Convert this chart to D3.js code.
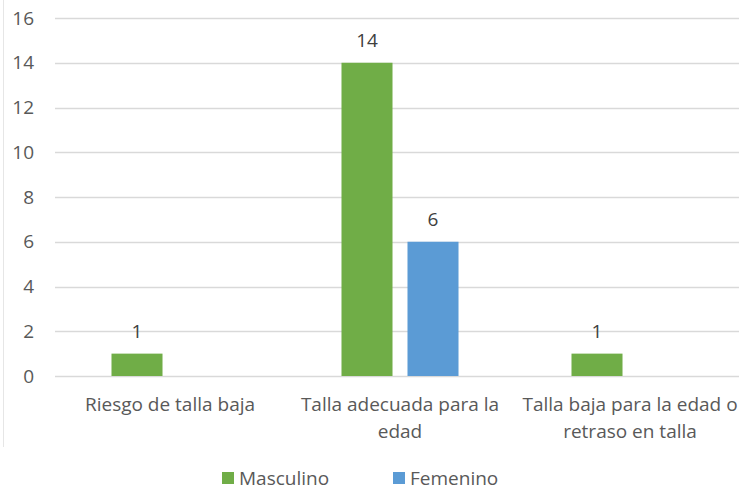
<!DOCTYPE html>
<html>
<head>
<meta charset="utf-8">
<script src="https://cdn.jsdelivr.net/npm/d3@7"></script>
<style>
  body { margin:0; background:#fff; }
  text { font-family: "Open Sans", "Liberation Sans", sans-serif; }
</style>
</head>
<body>
<div id="chart"></div>
<script>
// data
var categories = ["Riesgo de talla baja", "Talla adecuada para la edad", "Talla baja para la edad o retraso en talla"];
var catLines = [["Riesgo de talla baja"], ["Talla adecuada para la", "edad"], ["Talla baja para la edad o", "retraso en talla"]];
var seriesNames = ["Masculino", "Femenino"];
var masculino = [1, 14, 1];
var femenino = [0, 6, 0];
var yTicks = [0, 2, 4, 6, 8, 10, 12, 14, 16];
var colors = {"Masculino": "#70ad47", "Femenino": "#5b9bd5"};

var wdim = 739, hdim = 491;
var plot = {left: 55, right: 745, top: 18, bottom: 376};
var fs = "19px";

var svg = d3.select("#chart").append("svg")
  .attr("width", wdim)
  .attr("height", hdim);

// faint chart frame on the left
svg.append("line")
  .attr("x1", 3.5).attr("x2", 3.5)
  .attr("y1", 0).attr("y2", 447)
  .attr("stroke", "#e6e6e6");

var x = d3.scaleBand().domain(categories).range([plot.left, plot.right]);
var xs = d3.scaleBand().domain(seriesNames).range([0, x.bandwidth()])
  .paddingInner(0.227).paddingOuter(0.856);
var y = d3.scaleLinear().domain([0, 16]).range([plot.bottom, plot.top]);

// gridlines
svg.append("g").selectAll("line")
  .data(yTicks).enter().append("line")
  .attr("x1", plot.left).attr("x2", plot.right)
  .attr("y1", function(d){ return Math.round(y(d)) + 0.5; })
  .attr("y2", function(d){ return Math.round(y(d)) + 0.5; })
  .attr("stroke", "#d9d9d9")
  .attr("stroke-width", 1.5);

// y tick labels
svg.append("g").selectAll("text")
  .data(yTicks).enter().append("text")
  .attr("x", 34)
  .attr("y", function(d){ return y(d); })
  .attr("dy", "0.35em")
  .attr("text-anchor", "end")
  .attr("fill", "#595959")
  .style("font-size", fs)
  .text(function(d){ return d; });

// bars
var rows = categories.map(function(c, i){
  return {cat: c, vals: [{s: "Masculino", v: masculino[i]}, {s: "Femenino", v: femenino[i]}]};
});

var groups = svg.selectAll(".grp")
  .data(rows).enter().append("g")
  .attr("class", "grp")
  .attr("transform", function(d){ return "translate(" + x(d.cat) + ",0)"; });

var bars = groups.selectAll(".bar")
  .data(function(d){ return d.vals.filter(function(e){ return e.v > 0; }); })
  .enter();

bars.append("rect")
  .attr("class", "bar")
  .attr("x", function(d){ return xs(d.s); })
  .attr("width", xs.bandwidth())
  .attr("y", function(d){ return y(d.v); })
  .attr("height", function(d){ return y(0) - y(d.v); })
  .attr("fill", function(d){ return colors[d.s]; });

bars.append("text")
  .attr("x", function(d){ return xs(d.s) + xs.bandwidth()/2; })
  .attr("y", function(d){ return y(d.v) - 22; })
  .attr("dy", "0.35em")
  .attr("text-anchor", "middle")
  .attr("fill", "#404040")
  .style("font-size", fs)
  .text(function(d){ return d.v; });

// category labels
var catText = svg.append("g").selectAll("text")
  .data(categories).enter().append("text")
  .attr("x", function(d){ return x(d) + x.bandwidth()/2; })
  .attr("y", 404)
  .attr("text-anchor", "middle")
  .attr("fill", "#595959")
  .style("font-size", fs);

catText.each(function(d, i){
  d3.select(this).selectAll("tspan")
    .data(catLines[i]).enter().append("tspan")
    .attr("x", x(d) + x.bandwidth()/2)
    .attr("dy", function(e, j){ return j === 0 ? "0.35em" : "27px"; })
    .text(function(e){ return e; });
});

// legend
var legendX = [222, 393];
var legend = svg.append("g").selectAll("g")
  .data(seriesNames).enter().append("g")
  .attr("transform", function(d, i){ return "translate(" + legendX[i] + ",478)"; });

legend.append("rect")
  .attr("x", 0).attr("y", -6)
  .attr("width", 12).attr("height", 12)
  .attr("fill", function(d){ return colors[d]; });

legend.append("text")
  .attr("x", 17)
  .attr("y", 0)
  .attr("dy", "0.35em")
  .attr("fill", "#595959")
  .style("font-size", fs)
  .text(function(d){ return d; });
</script>
</body>
</html>
